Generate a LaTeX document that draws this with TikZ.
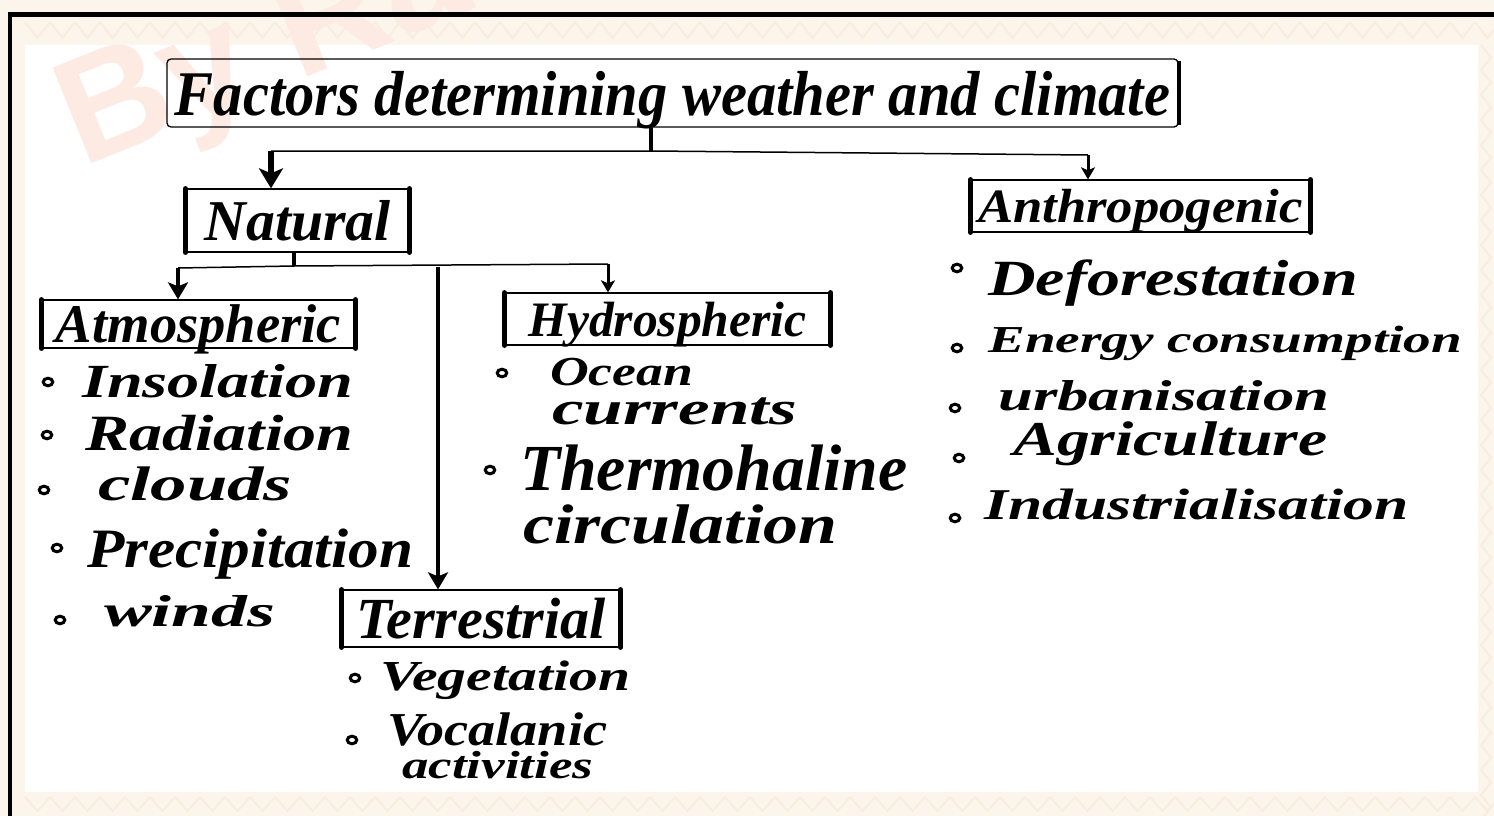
\documentclass[tikz,border=0pt]{standalone}
\usepackage{fontspec}
\setmainfont{Liberation Serif}
\newfontfamily\wmfont{Liberation Sans}
\usetikzlibrary{arrows.meta}
\definecolor{paper}{RGB}{252,245,236}
\definecolor{patc}{RGB}{249,237,223}
\definecolor{wmc}{RGB}{252,234,227}
\newcommand{\hwt}[3][1]{\resizebox{#2pt}{!}{\scalebox{#1}[1]{\bfseries\itshape #3}}}
\tikzset{
  catbox/.style={draw, line width=1.3pt, inner sep=0pt, text depth=0pt},
  boxside/.style={line width=4.5pt, line cap=round},
  link/.style={line width=1.5pt},
  stub/.style={line width=4pt},
  bigarr/.style={line width=6pt, -{Stealth[length=20pt,width=24pt,inset=5pt]}},
  midarr/.style={line width=4pt, -{Stealth[length=17pt,width=20pt,inset=4pt]}},
  smallarr/.style={line width=3pt, -{Stealth[length=12pt,width=14pt,inset=3pt]}},
  item/.style={anchor=base west, inner sep=0pt},
  bul/.style={line width=3pt},
  patline/.style={patc, line width=2pt},
}
\begin{document}
\begin{tikzpicture}[x=1pt,y=-1pt]
\useasboundingbox (0,0) rectangle (1494,816);
% background
\fill[paper] (0,0) rectangle (1494,816);
\foreach \i in {0,...,58} {
  \draw[patline] ({25+25*\i},797) -- ({37.5+25*\i},811) -- ({50+25*\i},797);
  \draw[patline] ({25+25*\i},22) -- ({37.5+25*\i},38) -- ({50+25*\i},22);
}
\foreach \j in {0,...,30} {
  \draw[patline] (1481,{45+25*\j}) -- (1491,{57.5+25*\j}) -- (1481,{70+25*\j});
}
\fill[white] (25,45) rectangle (1478,792);
% watermark
\begin{scope}
\clip (0,0) rectangle (1494,816);
\node[rotate=22, text=wmc, anchor=base west, inner sep=0pt,
      font=\wmfont\bfseries\fontsize{150}{150}\selectfont] (wmk) at (82,168) {By Ra};
\end{scope}
% frame
\draw[line width=4.5pt] (10,816) -- (10,14.5) -- (1494,14.5);

% boxes
\node[catbox, rounded corners=4pt, minimum width=1011pt, minimum height=68pt] (title) at (672.5,93)
  {\hwt[0.92]{995}{Factors determining weather and climate}};
\draw[line width=4pt] ([yshift=-3pt]title.north east) -- ([yshift=3pt]title.south east);

\node[catbox, minimum width=223pt, minimum height=63pt] (nat) at (297.5,220.5) {\hwt{186}{Natural}};
\node[catbox, minimum width=339pt, minimum height=52pt] (ant) at (1140.5,206) {\hwt[1.1]{325}{Anthropogenic}};
\node[catbox, minimum width=313pt, minimum height=48pt] (atm) at (198.5,324) {\hwt{285}{Atmospheric}};
\node[catbox, minimum width=325pt, minimum height=52pt] (hyd) at (667.5,319) {\hwt{278}{Hydrospheric}};
\node[catbox, minimum width=278pt, minimum height=57pt] (ter) at (481,618.5) {\hwt{250}{Terrestrial}};
\foreach \b in {nat,ant,atm,hyd,ter} {
  \draw[boxside] (\b.north west) -- (\b.south west);
  \draw[boxside] (\b.north east) -- (\b.south east);
}

% connectors
\coordinate (j0) at (651,151);
\coordinate (jL) at (271,151);
\coordinate (jR) at (1088,155);
\draw[stub] (title.south -| j0) -- (j0);
\draw[link] (jL) -- (j0) -- (jR);
\draw[bigarr] (jL) -- (jL |- nat.north);
\draw[smallarr] (jR) -- (jR |- ant.north);

\coordinate (n0) at (294,266);
\coordinate (nL) at (178,268);
\coordinate (nM) at (438,267);
\coordinate (nR) at (608,264);
\draw[stub] (nat.south -| n0) -- (n0);
\draw[link] (nL) -- (n0) -- (nR);
\draw[midarr] (nL) -- (nL |- atm.north);
\draw[midarr] (nM) -- (nM |- ter.north);
\draw[smallarr] (nR) -- (nR |- hyd.north);

% Atmospheric items
\node[item] (a1) at (82,397) {\hwt[1.35]{271}{Insolation}};
\node[item] (a2) at (85,450) {\hwt[1.3]{268}{Radiation}};
\node[item] (a3) at (98,500) {\hwt[1.5]{194}{clouds}};
\node[item] (a4) at (87,567) {\hwt[1.1]{326}{Precipitation}};
\node[item] (a5) at (104,626) {\hwt[1.6]{171}{winds}};
\foreach \p in {(48,382),(47,435),(44,490),(57,548),(60,620)}
  \draw[bul] \p ellipse [x radius=4.8pt, y radius=3.8pt];

% Hydrospheric items
\node[item] (h1) at (550,385) {\hwt[1.3]{143}{Ocean}};
\node[item] (h2) at (552,424) {\hwt[1.5]{245}{currents}};
\node[item] (h3) at (520,490) {\hwt{387}{Thermohaline}};
\node[item] (h4) at (523,543) {\hwt[1.25]{314}{circulation}};
\foreach \p in {(502,373),(490,470)}
  \draw[bul] \p ellipse [x radius=4.8pt, y radius=3.8pt];

% Terrestrial items
\node[item] (t1) at (380,690) {\hwt[1.35]{250}{Vegetation}};
\node[item] (t2) at (387,745) {\hwt[1.15]{220}{Vocalanic}};
\node[item] (t3) at (402,778) {\hwt[1.35]{191}{activities}};
\foreach \p in {(355,678),(352,740)}
  \draw[bul] \p ellipse [x radius=4.8pt, y radius=3.8pt];

% Anthropogenic items
\node[item] (p1) at (988,295) {\hwt[1.3]{370}{Deforestation}};
\node[item] (p2) at (988,352) {\hwt[1.45]{474}{Energy consumption}};
\node[item] (p3) at (998,410) {\hwt[1.45]{331}{urbanisation}};
\node[item] (p4) at (1013,455) {\hwt[1.35]{314}{Agriculture}};
\node[item] (p5) at (984,519) {\hwt[1.4]{424}{Industrialisation}};
\foreach \p in {(957,268),(957,348),(955,408),(959,458),(955,518)}
  \draw[bul] \p ellipse [x radius=4.8pt, y radius=3.8pt];
\end{tikzpicture}
\end{document}
